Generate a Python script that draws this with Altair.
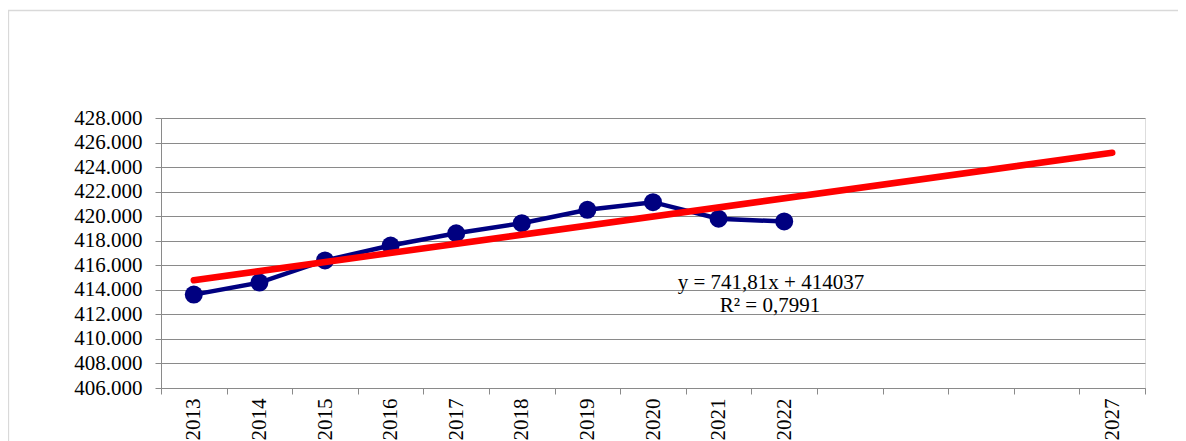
import altair as alt
import pandas as pd

# ---------------- data ----------------
years = ["2013", "2014", "2015", "2016", "2017", "2018", "2019", "2020",
         "2021", "2022", "2023", "2024", "2025", "2026", "2027"]
shown_labels = ["2013", "2014", "2015", "2016", "2017", "2018", "2019",
                "2020", "2021", "2022", "2027"]
pop_years = ["2013", "2014", "2015", "2016", "2017", "2018", "2019",
             "2020", "2021", "2022"]
population = [413610, 414590, 416390, 417610, 418610, 419430, 420520,
              421140, 419790, 419570]
trend_years = ["2013", "2027"]
trend_values = [414779, 425164]
y_ticks = [406000, 408000, 410000, 412000, 414000, 416000, 418000,
           420000, 422000, 424000, 426000, 428000]
title_text = "Kanton Sarajevo - ukupno stanovništvo"
eq_line1 = "y = 741,81x + 414037"
eq_line2 = "R² = 0,7991"

# ---------------- layout ----------------
W, H = 984, 270
FONT = "Liberation Serif"
GRID = "#8a8a8a"
NAVY = "#000080"
RED = "#ff0000"

pop_df = pd.DataFrame({"year": pop_years, "value": population})
trend_df = pd.DataFrame({"year": trend_years, "value": trend_values})
one = pd.DataFrame({"k": [0]})

label_list = "[" + ",".join("'%s'" % s for s in shown_labels) + "]"

x_scale = alt.Scale(domain=years, paddingInner=0, paddingOuter=0)
y_scale = alt.Scale(domain=[406000, 428000], nice=False, zero=False)

x_axis = alt.Axis(
    title=None, labelAngle=270, tickBand="extent", grid=False,
    labelExpr="indexof(%s, datum.value) >= 0 ? datum.value : ''" % label_list,
    labelFont=FONT, labelFontSize=21, labelColor="black", labelPadding=4,
    tickSize=6, tickColor=GRID, domainColor=GRID, labelOverlap=False,
)
y_axis = alt.Axis(
    title=None, values=y_ticks, tickCount=len(y_ticks), grid=True,
    gridColor=GRID, gridWidth=1, labelOverlap=False,
    labelExpr="replace(format(datum.value, ',.0f'), ',', '.')",
    labelFont=FONT, labelFontSize=21, labelColor="black", labelPadding=13,
    tickSize=6, tickColor=GRID, domainColor=GRID,
)

base_line = alt.Chart(pop_df).mark_line(color=NAVY, strokeWidth=4.5).encode(
    x=alt.X("year:N", scale=x_scale, axis=x_axis, sort=years),
    y=alt.Y("value:Q", scale=y_scale, axis=y_axis),
)
points = alt.Chart(pop_df).mark_point(
    filled=True, color=NAVY, size=324, opacity=1, shape="circle"
).encode(
    x=alt.X("year:N", scale=x_scale, sort=years),
    y=alt.Y("value:Q", scale=y_scale),
)
trend = alt.Chart(trend_df).mark_line(
    color=RED, strokeWidth=6.5, strokeCap="round"
).encode(
    x=alt.X("year:N", scale=x_scale, sort=years),
    y=alt.Y("value:Q", scale=y_scale),
)

border = alt.Chart(one).mark_rect(
    fillOpacity=0, stroke="#d9d9d9", strokeWidth=1.3
).encode(
    x=alt.value(-152.5), x2=alt.value(W + 300),
    y=alt.value(-107.5), y2=alt.value(H + 300),
)

title = alt.Chart(one).mark_text(
    font=FONT, fontSize=29, color="black", align="center", baseline="alphabetic"
).encode(x=alt.value(442), y=alt.value(-116), text=alt.value(title_text))

eq1 = alt.Chart(one).mark_text(
    font=FONT, fontSize=21, color="black", align="center", baseline="alphabetic"
).encode(x=alt.value(610), y=alt.value(171), text=alt.value(eq_line1))
eq2 = alt.Chart(one).mark_text(
    font=FONT, fontSize=21, color="black", align="center", baseline="alphabetic"
).encode(x=alt.value(609), y=alt.value(194), text=alt.value(eq_line2))

chart = alt.layer(border, title, base_line, points, trend, eq1, eq2).properties(
    width=W, height=H,
    autosize=alt.AutoSizeParams(type="none"),
    padding={"left": 153, "top": 110, "right": 33, "bottom": 60},
).configure_view(stroke=None).configure(background="white")

chart.save("out.html", embed_options={"renderer": "svg", "actions": False})
